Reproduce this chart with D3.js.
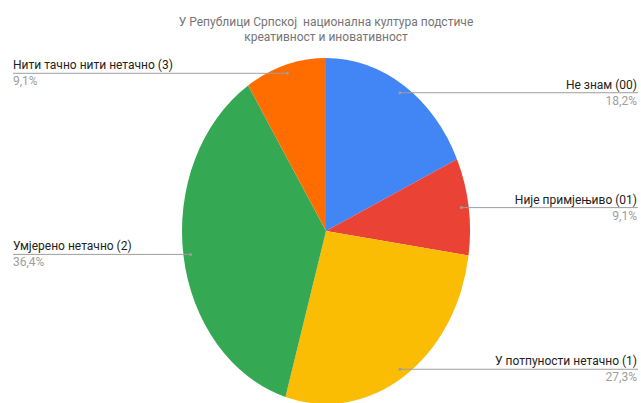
<!DOCTYPE html>
<html><head><meta charset="utf-8">
<script src="https://cdn.jsdelivr.net/npm/d3@7"></script>
<style>body{margin:0;background:#fff}svg{display:block}text{white-space:pre}</style>
</head><body>
<svg id="c" width="641" height="403"></svg>
<script>
const titleLines = ["У Републици Српској  национална култура подстиче", "креативност и иновативност"];
const categories = ["Не знам (00)", "Није примјењиво (01)", "У потпуности нетачно (1)", "Умјерено нетачно (2)", "Нити тачно нити нетачно (3)"];
const values = [2, 1, 3, 4, 1];
const percentLabels = ["18,2%", "9,1%", "27,3%", "36,4%", "9,1%"];
const colors = ["#4285F4", "#EA4335", "#FBBC04", "#34A853", "#FF6D01"];

const W = 641, H = 403;
const cx = 326, cy = 231, rx = 144, ry = 173;
const svg = d3.select("#c");
const font = "Roboto, 'Liberation Sans', Arial, sans-serif";

svg.append("g").selectAll("text").data(titleLines).join("text")
  .attr("x", 326).attr("y", (d, i) => 26 + i * 15)
  .attr("text-anchor", "middle").attr("font-family", font).attr("font-size", 12)
  .attr("fill", "#757575").text(d => d);

const pie = d3.pie().sort(null).value(d => d);
const arcs = pie(values);
const arc = d3.arc().innerRadius(0).outerRadius(rx);
const g = svg.append("g").attr("transform", `translate(${cx},${cy}) scale(1,${ry / rx})`);
g.selectAll("path").data(arcs).join("path")
  .attr("d", arc).attr("fill", (d, i) => colors[i]);

const dotArc = d3.arc().innerRadius(rx * 0.95).outerRadius(rx * 0.95);
const labels = svg.append("g");
arcs.forEach((a, i) => {
  const c = dotArc.centroid(a);
  const px = cx + c[0], py = cy + c[1] * ry / rx;
  const right = px > cx;
  const x2 = right ? 638 : 13;
  labels.append("line").attr("x1", px).attr("y1", py).attr("x2", x2).attr("y2", py)
    .attr("stroke", "#9e9e9e").attr("stroke-width", 1);
  labels.append("circle").attr("cx", px).attr("cy", py).attr("r", 1.5).attr("fill", "#9e9e9e");
  const tx = right ? 637 : 13;
  const anchor = right ? "end" : "start";
  labels.append("text").attr("x", tx).attr("y", py - 4).attr("text-anchor", anchor)
    .attr("font-family", font).attr("font-size", 12).attr("fill", "#222").text(categories[i]);
  labels.append("text").attr("x", tx).attr("y", py + 12).attr("text-anchor", anchor)
    .attr("font-family", font).attr("font-size", 12).attr("fill", "#9e9e9e").text(percentLabels[i]);
});
</script>
</body></html>
